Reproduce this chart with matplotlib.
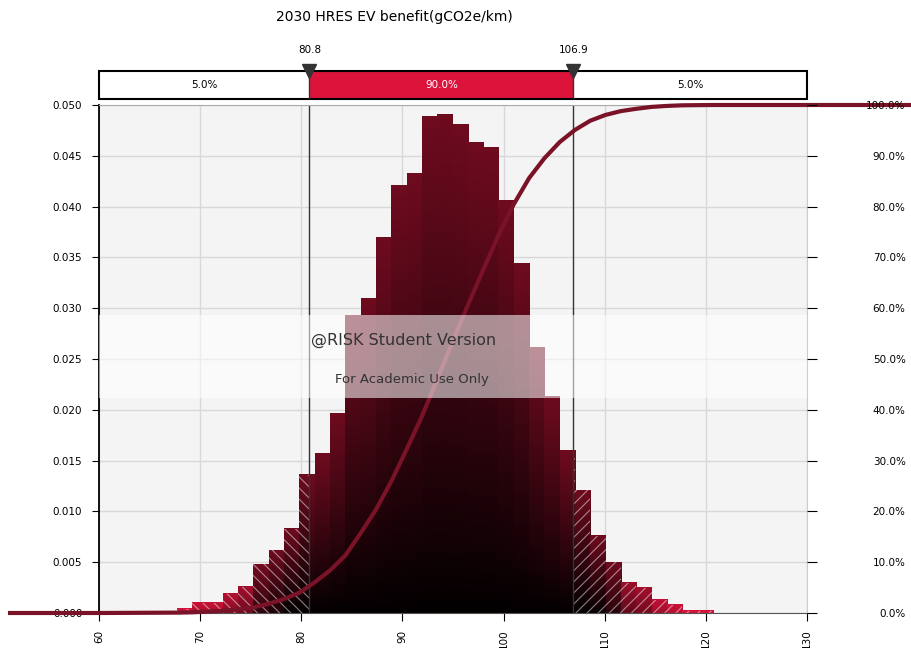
import numpy as np
import matplotlib
matplotlib.use('Agg')
import matplotlib.pyplot as plt
from matplotlib.colors import to_rgb
from matplotlib.patches import Rectangle

title = '2030 HRES EV benefit(gCO2e/km)'
bin_start = 60.13
bin_width = 1.514
density = [0.0001, 0.0001, 0.0001, 0.0001, 0.0001,
           0.0004, 0.0010, 0.0010, 0.0019, 0.0026,
           0.0048, 0.0062, 0.0083, 0.0136, 0.0157,
           0.0196, 0.0293, 0.0310, 0.0370, 0.0421,
           0.0433, 0.0489, 0.0491, 0.0481, 0.0463,
           0.0458, 0.0406, 0.0344, 0.0261, 0.0213,
           0.0160, 0.0121, 0.0076, 0.0050, 0.0030,
           0.0025, 0.0013, 0.0008, 0.0002, 0.0002]
left_cut = 80.8
right_cut = 106.9
band_labels = ['5.0%', '90.0%', '5.0%']
x_ticks = [60, 70, 80, 90, 100, 110, 120, 130]
y_ticks = [0.000, 0.005, 0.010, 0.015, 0.020, 0.025, 0.030, 0.035, 0.040, 0.045, 0.050]
pct_ticks = [0.0, 0.1, 0.2, 0.3, 0.4, 0.5, 0.6, 0.7, 0.8, 0.9, 1.0]

xmin, xmax = 60, 130
ymax = 0.05
W, H = 911, 648

plt.rcParams['hatch.linewidth'] = 0.8

fig = plt.figure(figsize=(W / 100, H / 100), dpi=100)
ax = fig.add_axes([99 / W, 1 - 613 / H, 708 / W, 508 / H])
ax.set_facecolor('#f4f4f4')

# gradient bars
crimson = np.array(to_rgb('#dc143c'))
maroon = np.array(to_rgb('#6e0b1f'))
grad = np.linspace(0, 1, 64)[:, None]
for i, h in enumerate(density):
    x0 = bin_start + i * bin_width
    x1 = x0 + bin_width
    t = min(h / 0.005, 1)
    top = crimson + (maroon - crimson) * t
    bottom = top * (1 - 0.97 * min(h / 0.008, 1))
    img = top + (bottom - top) * grad
    ax.imshow(img[:, None, :], extent=(x0, x1, 0, h), aspect='auto',
              origin='upper', interpolation='bilinear', zorder=1)
    if x0 < left_cut:
        ax.add_patch(Rectangle((x0, 0), min(x1, left_cut) - x0, h, fill=False,
                               hatch='\\\\\\', edgecolor=(1, 1, 1, 0.5), lw=0, zorder=1.5))
    if x1 > right_cut:
        xs = max(x0, right_cut)
        ax.add_patch(Rectangle((xs, 0), x1 - xs, h, fill=False,
                               hatch='///', edgecolor=(1, 1, 1, 0.5), lw=0, zorder=1.5))

# cumulative curve
edges = bin_start + bin_width * np.arange(len(density) + 1)
cdf = np.concatenate([[0], np.cumsum(density) * bin_width])
cdf = cdf / cdf[-1]
reach = 9.0
x_curve = np.concatenate([[xmin - reach], edges, [xmax + reach + 2]])
y_curve = np.concatenate([[0], cdf, [1]]) * ymax
ax.plot(x_curve, y_curve, color='#7a1228', lw=3, clip_on=False, zorder=3,
        solid_capstyle='butt')

for c in (left_cut, right_cut):
    ax.axvline(c, color='#333333', lw=1, zorder=2.5)

ax.set_xlim(xmin, xmax)
ax.set_ylim(0, ymax)
ax.set_axisbelow(True)
ax.grid(True, color='#d8d8d8', lw=1)
ax.set_xticks(x_ticks)
ax.set_xticklabels([str(v) for v in x_ticks], rotation=90)
ax.set_yticks(y_ticks)
ax.set_yticklabels([f'{v:.3f}' for v in y_ticks])
ax.tick_params(axis='x', length=6, pad=6, labelsize=7.5)
ax.tick_params(axis='y', length=5, pad=7, labelsize=7.5)
ax.spines['left'].set_color('black')
ax.spines['left'].set_linewidth(1.3)
ax.spines['top'].set_color('#aaaaaa')
ax.spines['right'].set_color('#cccccc')
ax.spines['bottom'].set_color('#555555')

ax2 = ax.twinx()
ax2.set_ylim(0, 1)
ax2.set_yticks(pct_ticks)
ax2.set_yticklabels([f'{v * 100:.1f}%' for v in pct_ticks])
ax2.tick_params(axis='y', length=7, pad=64, labelsize=7.5)
for lab in ax2.get_yticklabels():
    lab.set_horizontalalignment('right')
for s in ax2.spines.values():
    s.set_visible(False)

# watermark band
ax.add_patch(Rectangle((0, 0.423), 1, 0.164, transform=ax.transAxes,
                       facecolor='white', alpha=0.55, lw=0, zorder=4))
ax.text(0.43, 0.537, '@RISK Student Version', transform=ax.transAxes,
        ha='center', va='center', fontsize=11.5, color='#333333', zorder=5)
ax.text(0.442, 0.459, 'For Academic Use Only', transform=ax.transAxes,
        ha='center', va='center', fontsize=9.5, color='#333333', zorder=5)

# delimiter bar on top
bax = fig.add_axes([99 / W, 1 - 99 / H, 708 / W, 28 / H])
bax.set_xlim(xmin, xmax)
bax.set_ylim(0, 1)
bax.axis('off')
bounds = [xmin, left_cut, right_cut, xmax]
fills = ['white', '#dc143c', 'white']
for j in range(3):
    bax.add_patch(Rectangle((bounds[j], 0), bounds[j + 1] - bounds[j], 1,
                            facecolor=fills[j], edgecolor='none'))
    bax.text((bounds[j] + bounds[j + 1]) / 2, 0.5, band_labels[j], ha='center',
             va='center', fontsize=7.5, color='white' if j == 1 else 'black')
bax.add_patch(Rectangle((xmin, 0), xmax - xmin, 1, fill=False, edgecolor='black',
                        lw=1.5, clip_on=False))
for c in (left_cut, right_cut):
    bax.axvline(c, color='#333333', lw=1)
    bax.text(c, 1.75, f'{c:.1f}', ha='center', va='center', fontsize=7.5)
bax.plot([left_cut, right_cut], [1, 1], 'v', ms=10, color='#333333', clip_on=False)

fig.text(394 / W, 1 - 17 / H, title, ha='center', va='center', fontsize=10)

fig.savefig('out.png', dpi=100)
